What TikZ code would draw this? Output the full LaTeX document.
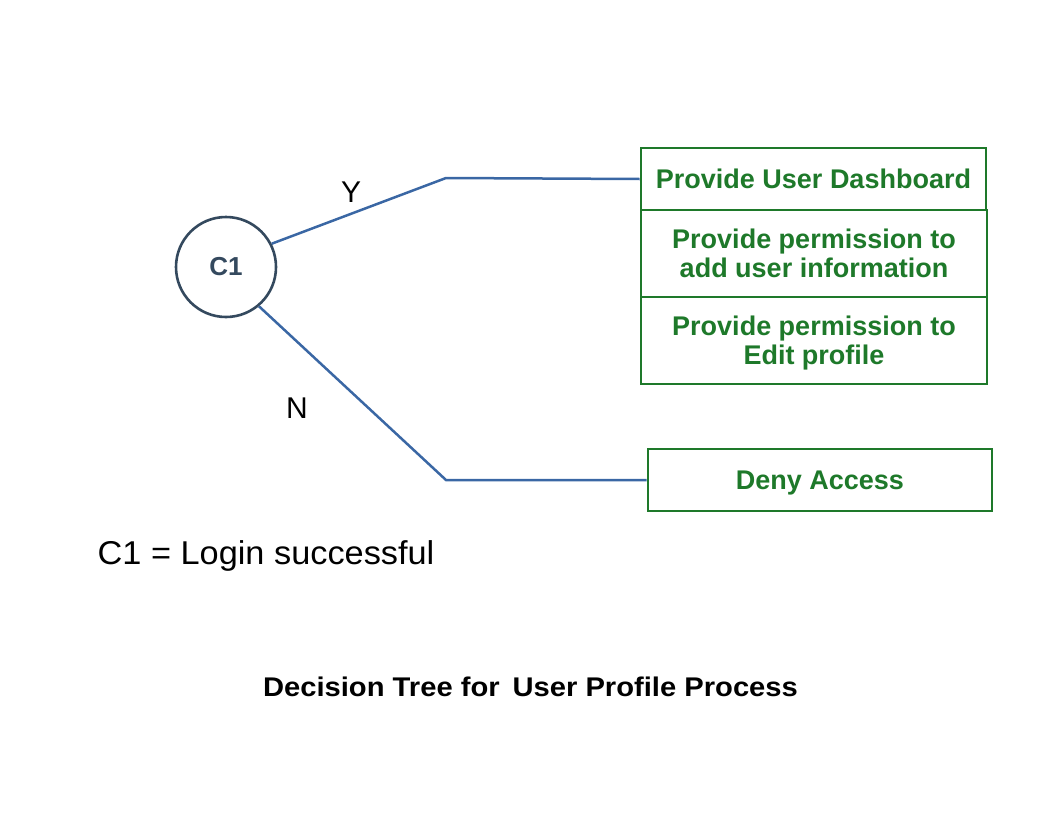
\documentclass[tikz,border=0pt]{standalone}
\usepackage{fontspec}
\setmainfont{Liberation Sans}
\usepackage{tikz}
\usetikzlibrary{calc}
\usetikzlibrary{shapes}
\definecolor{treegreen}{RGB}{30,121,42}
\definecolor{treeblue}{RGB}{58,103,164}
\definecolor{treeslate}{RGB}{52,73,94}
\tikzset{
	action/.style={draw=treegreen,line width=2.8pt,text=treegreen,align=center,inner sep=0pt,text depth=0pt,font=\fontsize{27}{29}\selectfont\bfseries},
	branch/.style={draw=treeblue,line width=2.5pt},
	answer/.style={font=\fontsize{30}{34}\selectfont}
}

\begin{document}
\begin{tikzpicture}[x=1pt,y=-1pt]
			\useasboundingbox (0,0) rectangle (1056,816);
			\node[circle,draw=treeslate,line width=2.6pt,minimum size=100pt,text=treeslate,font=\fontsize{26}{28}\selectfont\bfseries] (c1) at (226,267) {C1};
			\node[action,minimum width=345pt,minimum height=62pt] (dash) at (813.5,179) {Provide User Dashboard};
			\node[action,minimum width=346pt,minimum height=87pt] (adduser) at (814,253.5) {Provide permission to\\ add user information};
			\node[action,minimum width=346pt,minimum height=87pt] (edit) at (814,340.5) {Provide permission to\\Edit profile};
			\node[action,minimum width=344pt,minimum height=62pt] (deny) at (820,480) {Deny Access};
			\coordinate (ybend) at (446,178);
			\coordinate (nbend) at (446,480);
			\draw[branch] (c1.27) -- (ybend) -- (dash.west);
			\draw[branch] (c1.-50) -- (nbend) -- (deny.west);
			\node[answer] (yes) at (351,192) {Y};
			\node[answer] (no) at (297,408) {N};
			\node[anchor=base west,font=\fontsize{33}{36}\selectfont,xscale=1.04,transform shape] (legend) at (94,564) {C1 = Login successful};
			\node[anchor=base,font=\fontsize{27}{30}\selectfont\bfseries,xscale=1.08,transform shape] (title) at (530.5,696) {Decision Tree for\, User Profile Process};
		\end{tikzpicture}
\end{document}
